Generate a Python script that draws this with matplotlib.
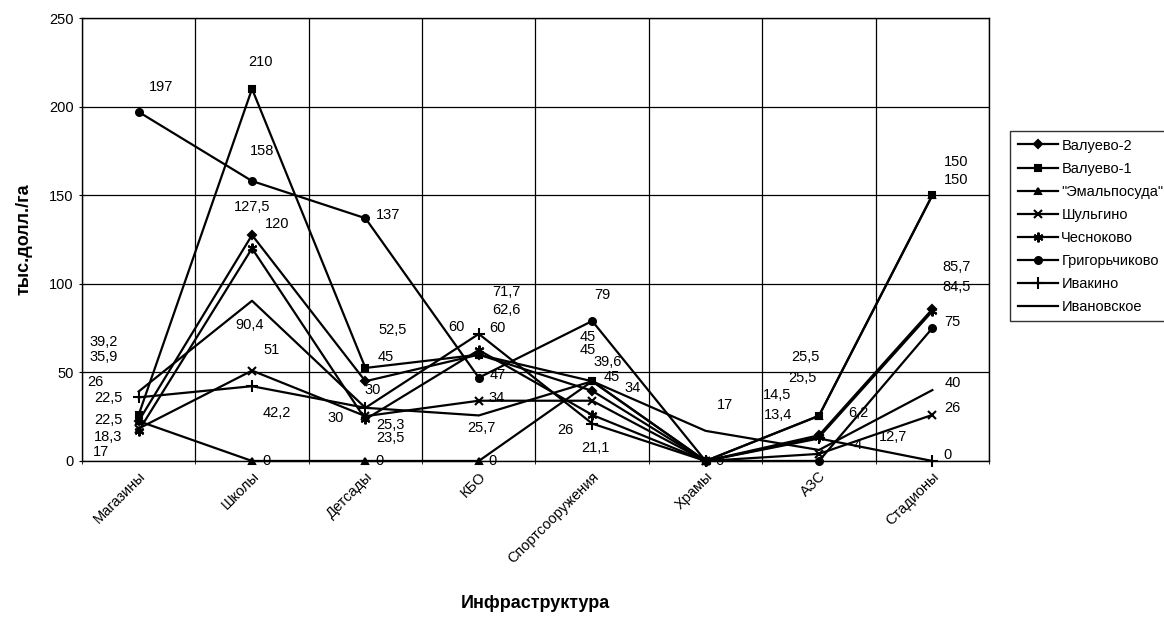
import matplotlib.pyplot as plt
import numpy as np

plt.rcParams['font.family'] = ['Liberation Sans', 'DejaVu Sans']

# categories
categories = ['Магазины', 'Школы', 'Детсады', 'КБО', 'Спортсооружения',
              'Храмы', 'АЗС', 'Стадионы']

# series values, тыс.долл./га
valuevo_2 = [22.5, 127.5, 45, 60, 39.6, 0, 14.5, 85.7]
valuevo_1 = [26, 210, 52.5, 60, 45, 0, 25.5, 150]
emalposuda = [22.5, 0, 0, 0, 45, 0, 25.5, 150]
shulgino = [18.3, 51, 25.3, 34, 34, 0, 4, 26]
chesnokovo = [17, 120, 23.5, 62.6, 26, 0, 13.4, 84.5]
grigorchikovo = [197, 158, 137, 47, 79, 0, 0, 75]
ivakino = [35.9, 42.2, 30, 71.7, 21.1, 0, 12.7, 0]
ivanovskoe = [39.2, 90.4, 30, 25.7, 45, 17, 6.2, 40]

names = ['Валуево-2', 'Валуево-1', '"Эмальпосуда"', 'Шульгино',
         'Чесноково', 'Григорьчиково', 'Ивакино', 'Ивановское']
series = [valuevo_2, valuevo_1, emalposuda, shulgino, chesnokovo,
          grigorchikovo, ivakino, ivanovskoe]

# styles
markers = ['D', 's', '^', 'x', (6, 2, 0), 'o', '+', None]
msizes = [4, 5, 4, 6, 7, 5, 8, 0]

# label offsets in pixels (dx, dy), None = label hidden
label_offsets = [
    [(-30, 23), (0, 28), (20, 24), (19, 27), (15, 29), None, (-42, 40), (24, 42)],
    [(-43, 33), (8, 27), (27, 38), (-22, 28), (-4, 44), None, (-14, 59), (24, 33)],
    [(-30, 1), (14, 0), (14, 0), (14, 0), (-4, 31), None, (-17, 38), (24, 15)],
    [(-31, -8), (20, 21), (25, -9), (18, 3), (40, 13), None, (39, 9), (20, 7)],
    [(-38, -21), (25, 24), (25, -19), (28, 40), (-27, -15), None, (-41, 22), (24, 24)],
    [(22, 25), (10, 30), (23, 3), (19, 3), (10, 26), (14, 0), None, (20, 6)],
    [(-35, 40), (25, -27), (7, 18), (28, 42), (3, -24), None, (74, 1), (15, 6)],
    [(-35, 50), (-2, -24), (-30, -10), (3, -13), (20, 4), (19, 26), (39, 37), (20, 7)],
]

fig = plt.figure(figsize=(11.64, 6.21), dpi=100)
ax = fig.add_axes([0.0704, 0.2577, 0.7793, 0.7133])

x = np.arange(len(categories))
for vals, name, mk, ms, offs in zip(series, names, markers, msizes, label_offsets):
    ax.plot(x, vals, color='black', lw=1.6, marker=mk, markersize=ms,
            markeredgewidth=1.5, label=name, clip_on=False, zorder=3)
    for xi, v, off in zip(x, vals, offs):
        if off is None:
            continue
        lbl = ('%g' % v).replace('.', ',')
        ax.annotate(lbl, (xi, v), xytext=off, textcoords='offset pixels',
                    ha='center', va='center', fontsize=10.5, zorder=4,
                    annotation_clip=False)

ax.set_xlim(-0.5, len(categories) - 0.5)
ax.set_ylim(0, 250)
ax.set_yticks(np.arange(0, 251, 50))
ax.set_xticks(x)
ax.set_xticklabels(categories, rotation=45, ha='right', va='top',
                   rotation_mode='anchor', fontsize=10.5)
ax.set_xticks(np.arange(-0.5, len(categories), 1), minor=True)
ax.tick_params(axis='x', which='major', length=0, pad=6)
ax.tick_params(axis='x', which='minor', length=4, direction='inout')
ax.tick_params(axis='y', length=5, direction='inout', labelsize=10.5)
ax.grid(axis='y', color='black', lw=0.9)
ax.grid(axis='x', which='minor', color='black', lw=0.9)
for s in ax.spines.values():
    s.set_color('black')
    s.set_linewidth(1.0)

ax.set_ylabel('тыс.долл./га', fontsize=13, fontweight='bold', labelpad=12)
fig.text(535 / 1164, 1 - 604 / 621, 'Инфраструктура', fontsize=13,
         fontweight='bold', ha='center', va='center')

leg = fig.legend(loc='upper left', bbox_to_anchor=(1003 / 1164, 1 - 124 / 621),
                 frameon=True, fancybox=False, edgecolor='black',
                 fontsize=10.5, handlelength=2.8, labelspacing=0.62,
                 borderpad=0.5, handletextpad=0.2)
leg.get_frame().set_linewidth(1.0)

fig.savefig('out.png', dpi=100)
